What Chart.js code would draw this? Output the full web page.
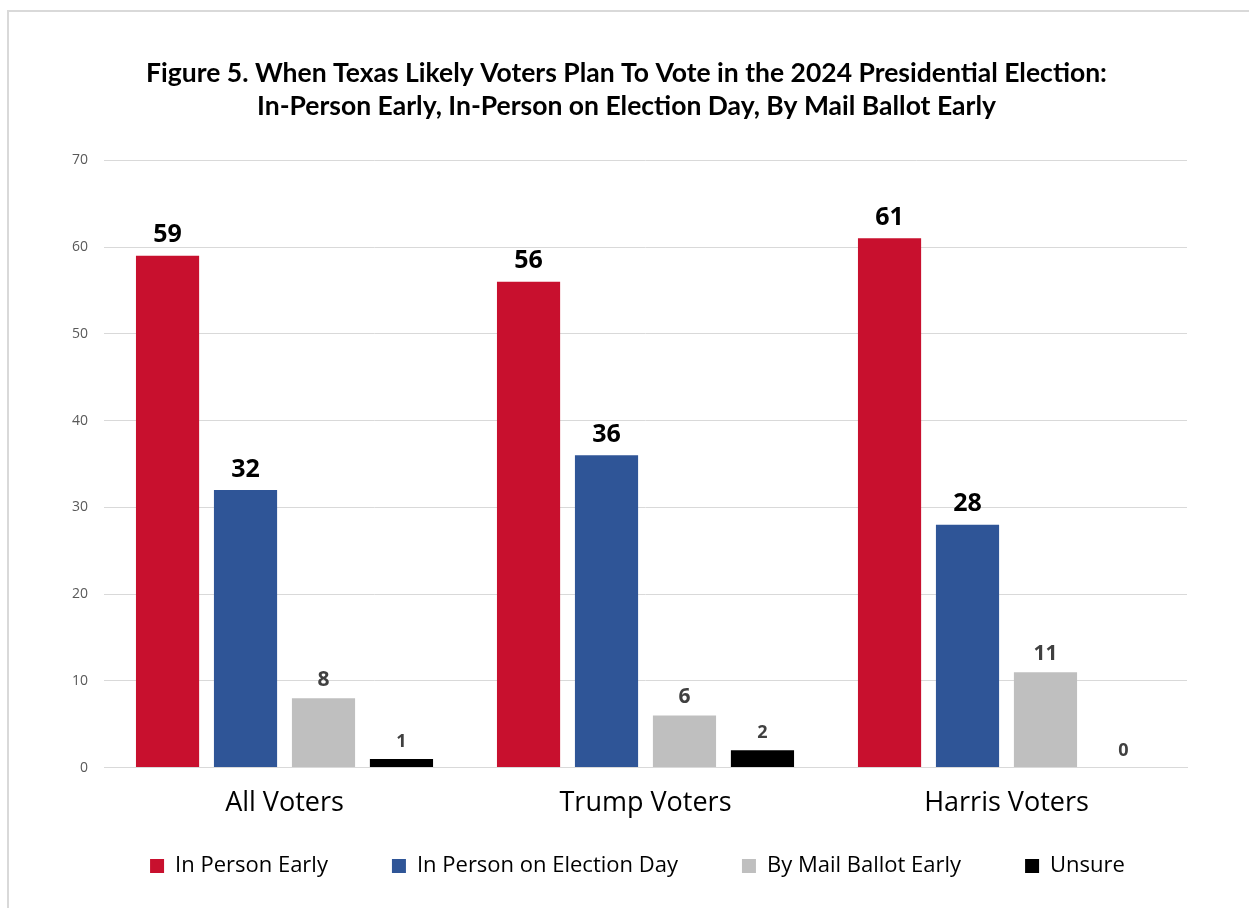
<!DOCTYPE html>
<html><head><meta charset="utf-8">
<script src="https://cdn.jsdelivr.net/npm/chart.js@4.4.1/dist/chart.umd.min.js"></script>
<style>
html,body{margin:0;padding:0;background:#fff;}
#frame{position:absolute;left:7px;top:10px;width:1250px;height:905px;border:2px solid #d9d9d9;box-sizing:border-box;}
#wrap{position:absolute;left:0;top:0;width:1249px;height:908px;}
</style></head>
<body>
<div id="frame"></div>
<div id="wrap"><canvas id="c" width="1249" height="908"></canvas></div>
<script>
const categories = ["All Voters", "Trump Voters", "Harris Voters"];
const seriesNames = ["In Person Early", "In Person on Election Day", "By Mail Ballot Early", "Unsure"];
const inPersonEarly = [59, 56, 61];
const inPersonElectionDay = [32, 36, 28];
const byMailBallotEarly = [8, 6, 11];
const unsure = [1, 2, 0];
const yTicks = [0, 10, 20, 30, 40, 50, 60, 70];

const colors = ["#C8102E", "#2F5597", "#BFBFBF", "#000000"];
const labelColors = ["#000000", "#000000", "#404040", "#404040"];
const labelSizes = [25, 25, 21, 18];
const allSeries = [inPersonEarly, inPersonElectionDay, byMailBallotEarly, unsure];

const valueLabels = {
  id: 'valueLabels',
  afterDatasetsDraw(chart) {
    const ctx = chart.ctx;
    chart.data.datasets.forEach((ds, i) => {
      const meta = chart.getDatasetMeta(i);
      meta.data.forEach((bar, j) => {
        ctx.save();
        ctx.font = 'bold ' + labelSizes[i] + 'px "Open Sans", sans-serif';
        ctx.fillStyle = labelColors[i];
        ctx.textAlign = 'center';
        ctx.textBaseline = 'bottom';
        ctx.fillText(String(ds.data[j]), bar.x, bar.y - 8);
        ctx.restore();
      });
    });
  }
};

// nudge legend and title blocks after layout (legend's top padding doubles as item spacing)
const blockNudge = {
  id: 'blockNudge',
  afterLayout(chart) {
    const lg = chart.legend;
    if (lg) { lg.top -= 49; lg.bottom -= 49; lg.left += 16; lg.right += 16; }
    const tb = chart.titleBlock;
    if (tb) { tb.left += 5; tb.right += 5; }
  }
};

new Chart(document.getElementById('c'), {
  type: 'bar',
  data: {
    labels: categories,
    datasets: allSeries.map((d, i) => ({
      label: seriesNames[i],
      data: d,
      backgroundColor: colors[i],
      borderWidth: 0,
      categoryPercentage: 0.864,
      barPercentage: 0.81
    }))
  },
  options: {
    responsive: false,
    animation: false,
    layout: { padding: { left: 56, right: 62, top: 40, bottom: -28 } },
    plugins: {
      title: {
        display: true,
        text: ["Figure 5. When Texas Likely Voters Plan To Vote in the 2024 Presidential Election:",
               "In-Person Early, In-Person on Election Day, By Mail Ballot Early"],
        font: { family: 'Lato', size: 26.5, weight: 'bold', lineHeight: 1.25 },
        color: '#000',
        padding: { top: 17, bottom: 37 }
      },
      legend: {
        position: 'bottom',
        labels: {
          boxWidth: 14, boxHeight: 14, padding: 64,
          font: { family: '"Open Sans", sans-serif', size: 22 },
          color: '#000'
        }
      },
      tooltip: { enabled: false }
    },
    scales: {
      x: {
        grid: { display: false, drawTicks: false },
        border: { color: '#d9d9d9', width: 1 },
        ticks: { font: { family: '"Open Sans", sans-serif', size: 27 }, color: '#000', padding: 20 }
      },
      y: {
        min: 0, max: 70,
        afterBuildTicks(axis) { axis.ticks = yTicks.map(v => ({ value: v })); },
        grid: { color: '#d9d9d9', drawTicks: false },
        border: { display: false },
        ticks: { font: { family: '"Open Sans", sans-serif', size: 14 }, color: '#595959', padding: 16 }
      }
    }
  },
  plugins: [valueLabels, blockNudge]
});
</script>
</body></html>
